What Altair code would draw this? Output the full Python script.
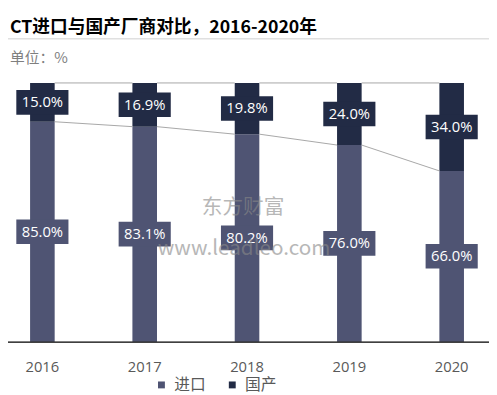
import altair as alt
import pandas as pd

years = ["2016", "2017", "2018", "2019", "2020"]
imports = [85.0, 83.1, 80.2, 76.0, 66.0]
domestic = [15.0, 16.9, 19.8, 24.0, 34.0]
series = ["进口", "国产"]
colors = ["#4f5473", "#222b45"]

title_text = "CT进口与国产厂商对比，2016-2020年"
unit_text = "单位：%"
wm1 = "东方财富"
wm2 = "www.leadleo.com"

rows = []
for i, y in enumerate(years):
    rows.append({"year": y, "series": series[0], "value": imports[i], "ord": 0,
                 "mid": imports[i] / 2})
    rows.append({"year": y, "series": series[1], "value": domestic[i], "ord": 1,
                 "mid": imports[i] + domestic[i] / 2})
df = pd.DataFrame(rows)
df["label"] = df["value"].map(lambda v: f"{v:.1f}%")

lines = []
for i in range(len(years) - 1):
    lines.append({"a": years[i], "b": years[i + 1], "ya": imports[i], "yb": imports[i + 1]})
    lines.append({"a": years[i], "b": years[i + 1], "ya": 100.0, "yb": 100.0})
ldf = pd.DataFrame(lines)

W, H = 486, 263
xscale = alt.Scale(domain=years, paddingInner=0.76, paddingOuter=0.216)
yscale = alt.Scale(domain=[0, 100], nice=False)
cscale = alt.Scale(domain=series, range=colors)

base = alt.Chart(df)

bars = base.mark_bar(size=25).encode(
    x=alt.X("year:N", scale=xscale, sort=years,
            axis=alt.Axis(title=None, labelAngle=0, ticks=False, domain=False,
                          labelFontSize=15, labelColor="#595959", labelPadding=18,
                          labelFont="Open Sans")),
    y=alt.Y("value:Q", stack="zero", scale=yscale, axis=None),
    color=alt.Color("series:N", scale=cscale, sort=series,
                    legend=alt.Legend(title=None, orient="none", direction="horizontal",
                                      legendX=148, legendY=299, symbolType="square",
                                      symbolSize=49, symbolStrokeWidth=0,
                                      labelFontSize=16, labelColor="#595959",
                                      labelFont="Noto Sans CJK SC", labelOffset=5,
                                      columnPadding=18, padding=0)),
    order=alt.Order("ord:Q"),
)

seglines = alt.Chart(ldf).mark_rule(color="#a6a6a6", strokeWidth=1,
                                     xOffset=12.5, x2Offset=-12.5).encode(
    x=alt.X("a:N", scale=xscale, sort=years),
    x2="b:N",
    y=alt.Y("ya:Q", scale=yscale),
    y2="yb:Q",
)

boxes = base.mark_point(
    shape="M-1,-0.4717L1,-0.4717L1,0.4717L-1,0.4717Z",
    size=2809, filled=True, opacity=1, strokeWidth=0,
).encode(
    x=alt.X("year:N", scale=xscale, sort=years),
    y=alt.Y("mid:Q", scale=yscale),
    color=alt.Color("series:N", scale=cscale, sort=series, legend=None),
)

labels = base.mark_text(color="white", fontSize=15, font="Open Sans",
                        baseline="middle", align="center").encode(
    x=alt.X("year:N", scale=xscale, sort=years),
    y=alt.Y("mid:Q", scale=yscale),
    text="label:N",
)

one = pd.DataFrame({"k": [0]})

axis_line = alt.Chart(one).mark_rule(color="black", strokeWidth=1.5).encode(
    x=alt.value(-8), x2=alt.value(489), y=alt.value(H + 0.5),
)

title = alt.Chart(one).mark_text(
    align="left", baseline="alphabetic", fontSize=18, fontWeight="bold",
    font="Noto Sans CJK SC", color="#000000", text=title_text,
).encode(x=alt.value(2), y=alt.value(-51))

title_rule = alt.Chart(one).mark_rule(
    color="#e0e0e0", strokeWidth=1.5).encode(
    x=alt.value(-3), x2=alt.value(489), y=alt.value(-45))

unit = alt.Chart(one).mark_text(
    align="left", baseline="alphabetic", fontSize=15,
    font="Noto Sans CJK SC", color="#7f7f7f", text=unit_text,
).encode(x=alt.value(2), y=alt.value(-20))

wmark1 = alt.Chart(one).mark_text(
    align="center", baseline="middle", fontSize=21, font="Noto Sans CJK SC",
    color="#888888", opacity=0.6, text=wm1,
).encode(x=alt.value(239), y=alt.value(127))

wmark2 = alt.Chart(one).mark_text(
    align="center", baseline="middle", fontSize=21, font="Noto Sans CJK SC",
    color="#888888", opacity=0.6, text=wm2,
).encode(x=alt.value(240), y=alt.value(169))

chart = alt.layer(
    bars, seglines, boxes, labels, axis_line, title, title_rule, unit, wmark1, wmark2
).properties(
    width=W, height=H, autosize="none",
    padding={"left": 0, "top": 73, "right": 3, "bottom": 48},
).configure_view(stroke=None)

chart.save("out.html", embed_options={"renderer": "svg", "actions": False})
